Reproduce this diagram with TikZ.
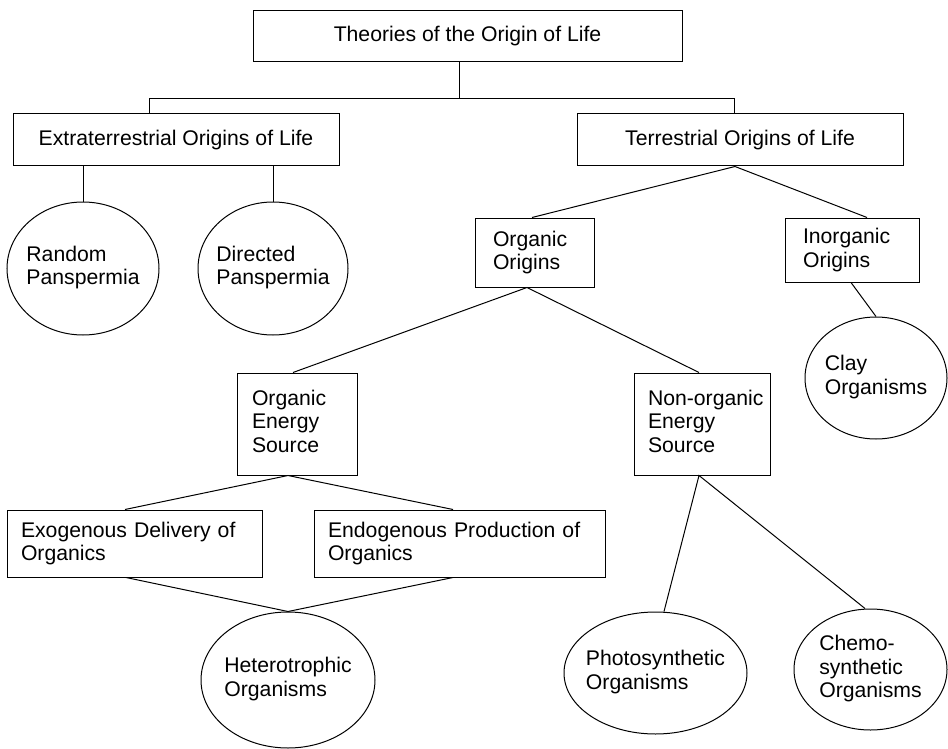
\documentclass[tikz,border=0pt]{standalone}
\usepackage{fontspec}
\setmainfont{Liberation Sans}
\usetikzlibrary{shapes.geometric}
\newcommand{\ztext}[1]{\makebox[0pt][c]{\begin{tabular}{@{}l@{}}#1\end{tabular}}}
\begin{document}
\begin{tikzpicture}[x=1pt,y=-1pt,
  every node/.style={font=\fontsize{21.2}{23.5}\selectfont, text=black},
  cbox/.style={draw, line width=1pt, rectangle, inner sep=0pt, align=center},
  lbox/.style={draw, line width=1pt, rectangle, inner ysep=0pt, align=left},
  ell/.style={draw, line width=1pt, ellipse, inner sep=0pt},
  conn/.style={line width=1pt}]
\useasboundingbox (0,0) rectangle (948,749);

\node[cbox, minimum width=429, minimum height=51] (top) at (467.5,36.5) {Theories of the Origin of Life};
\node[cbox, minimum width=326, minimum height=52] (ext) at (176,140) {Extraterrestrial Origins of Life};
\node[cbox, minimum width=326, minimum height=52] (terr) at (740,140) {Terrestrial Origins of Life};

\node[ell, minimum width=152, minimum height=133] (rand) at (83,268.5) {\ztext{Random\\Panspermia}};
\node[ell, minimum width=150, minimum height=133] (dir) at (273,268.5) {\ztext{Directed\\Panspermia}};

\node[lbox, text width=83, inner xsep=18, minimum height=69] (orgor) at (534.5,252.5) {Organic\\Origins};
\node[lbox, text width=98, inner xsep=18, minimum height=64] (inorg) at (852,250) {Inorganic\\Origins};
\node[ell, minimum width=142, minimum height=122] (clay) at (876,378) {\ztext{Clay\\Organisms}};

\node[lbox, text width=90, inner xsep=15, minimum height=102] (oes) at (297,424) {Organic\\Energy\\Source\vspace{6pt}};
\node[lbox, text width=108, inner xsep=0, minimum width=136, minimum height=102] (noes) at (702,424) {\mbox{Non-organic}\hfill\\Energy\\Source\vspace{6pt}};

\node[lbox, text width=227, inner xsep=14, minimum height=67] (exo) at (134.5,543.5) {Exogenous Delivery of\\Organics};
\node[lbox, text width=263, inner xsep=14, minimum height=67] (endo) at (459.5,543.5) {Endogenous Production of\\Organics};

\node[ell, minimum width=174, minimum height=136] (het) at (288,680) {\ztext{Heterotrophic\\Organisms}};
\node[ell, minimum width=183, minimum height=122] (photo) at (655.5,673) {\ztext{Photosynthetic\\Organisms}};
\node[ell, minimum width=153, minimum height=121] (chemo) at (870.5,669.5) {\ztext{Chemo-\\synthetic\\Organisms}};

\coordinate (hub) at (459,99);
\coordinate (hl) at (149,99);
\coordinate (hr) at (734,99);
\draw[conn] (top.south -| hub) -- (hub);
\draw[conn] (ext.north -| hl) |- (hr) -- (terr.north -| hr);

\draw[conn] (rand.north) -- (rand.north |- ext.south);
\draw[conn] (dir.north) -- (dir.north |- ext.south);

\draw[conn] ([xshift=-2.5]orgor.north) -- ([xshift=-5]terr.south) -- ([xshift=15]inorg.north);
\draw[conn] ([xshift=-1]inorg.south) -- (clay.north);

\draw[conn] ([xshift=-4]oes.north) -- ([xshift=-7.5]orgor.south) -- ([xshift=-3]noes.north);

\draw[conn] ([xshift=-9.5]exo.north) -- ([xshift=-9]oes.south) -- ([xshift=-6.5]endo.north);
\draw[conn] ([xshift=-8.5]exo.south) -- (het.north) -- ([xshift=-6.5]endo.south);

\draw[conn] ([xshift=8.5]photo.north) -- ([xshift=-3]noes.south) -- ([xshift=-5.5]chemo.north);
\end{tikzpicture}
\end{document}
